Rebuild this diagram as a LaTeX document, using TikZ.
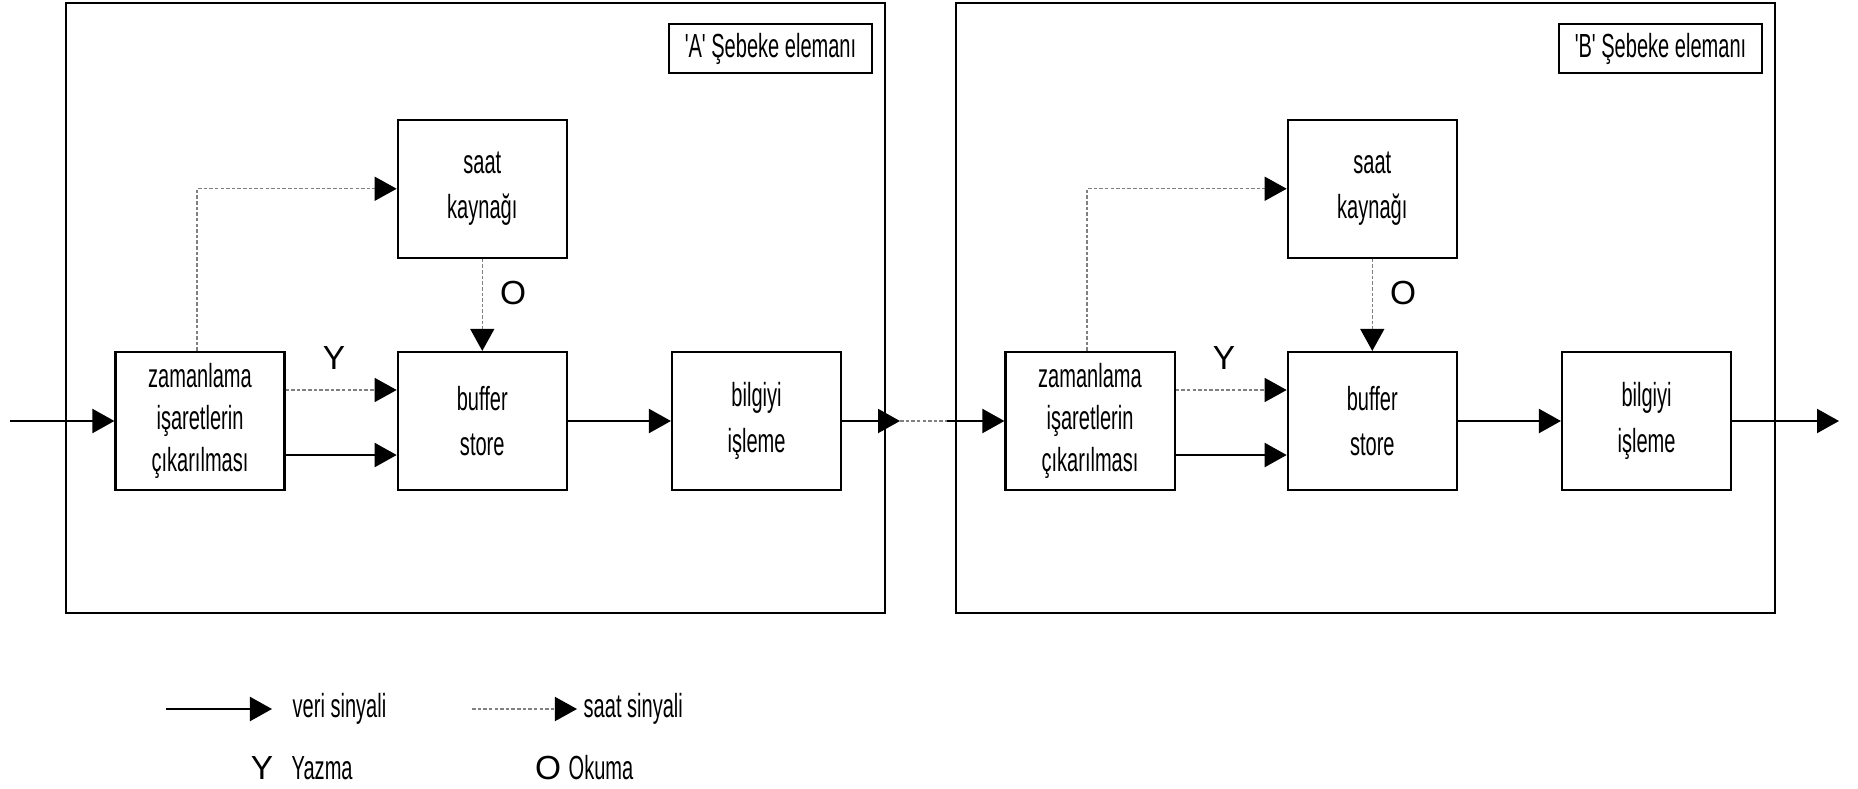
\documentclass[tikz,border=0pt]{standalone}
\usepackage{fontspec}
\setmainfont{Liberation Sans}
\newfontfamily\narrowsans[FakeStretch=0.6]{Liberation Sans}
\usetikzlibrary{arrows.meta,positioning}

\begin{document}
\begin{tikzpicture}[
    x=0.01cm, y=-0.01cm,
    node distance=1.1cm,
    block/.style={
        draw,
        line width=0.6pt,
        align=center,
        minimum width=1.69cm,
        minimum height=1.38cm,
        inner sep=0pt,
        font=\narrowsans\fontsize{9.5}{12}\selectfont
    },
    wideblock/.style={
        block,
        font=\narrowsans\fontsize{9.5}{13}\selectfont
    },
    element/.style={
        draw,
        line width=0.6pt,
        minimum width=8.19cm,
        minimum height=6.10cm,
        inner sep=0pt
    },
    tagbox/.style={
        draw,
        line width=0.6pt,
        minimum width=2.03cm,
        minimum height=0.49cm,
        inner sep=0pt,
        font=\narrowsans\fontsize{9.5}{12}\selectfont
    },
    letter/.style={inner sep=0pt, font=\fontsize{9.5}{12}\selectfont},
    legendtext/.style={anchor=west, inner sep=0pt, font=\narrowsans\fontsize{9.5}{12}\selectfont},
    dataarrow/.style={-{Triangle[length=2.2mm, width=2.4mm]}, line width=0.6pt},
    clockarrow/.style={-{Triangle[length=2.2mm, width=2.4mm, color=black]},
        line width=0.4pt, draw=gray, dash pattern=on 1pt off 0.6pt}
]
    \useasboundingbox (0,0) rectangle (1858,788);

    \node[element] (elemA) at (475.5,308) {};
    \node[element] (elemB) at (1365.5,308) {};
    \node[tagbox] (tagA) at (770.5,48.5) {'A' Şebeke elemanı};
    \node[tagbox] (tagB) at (1660.5,48.5) {'B' Şebeke elemanı};

    \node[block] (zamA) at (200,421) {zamanlama\\işaretlerin\\çıkarılması};
    \node[wideblock, right=1.11cm of zamA] (bufA) {buffer\\store};
    \node[wideblock, right=1.03cm of bufA] (bilA) {bilgiyi\\işleme};
    \node[wideblock, above=0.92cm of bufA] (saatA) {saat\\kaynağı};
    \node[letter] (yA) at (334,358) {Y};
    \node[letter] (oA) at (513,293) {O};

    \node[block] (zamB) at (1090,421) {zamanlama\\işaretlerin\\çıkarılması};
    \node[wideblock, right=1.11cm of zamB] (bufB) {buffer\\store};
    \node[wideblock, right=1.03cm of bufB] (bilB) {bilgiyi\\işleme};
    \node[wideblock, above=0.92cm of bufB] (saatB) {saat\\kaynağı};
    \node[letter] (yB) at (1224,358) {Y};
    \node[letter] (oB) at (1403,293) {O};

    \coordinate (inA) at (10,421);
    \coordinate (linkA) at (900,421);
    \coordinate (linkB) at (947,421);
    \coordinate (outB) at (1839,421);

    \draw[dataarrow] (inA) -- (zamA);
    \draw[clockarrow] ([yshift=0.31cm]zamA.east) -- ([yshift=0.31cm]bufA.west);
    \draw[dataarrow] ([yshift=-0.34cm]zamA.east) -- ([yshift=-0.34cm]bufA.west);
    \draw[clockarrow] ([xshift=-0.03cm]zamA.north) |- (saatA);
    \draw[clockarrow] (saatA) -- (bufA);
    \draw[dataarrow] (bufA) -- (bilA);
    \draw[dataarrow] (bilA) -- (linkA);
    \draw[clockarrow, -] (linkA) -- (linkB);

    \draw[dataarrow] (linkB) -- (zamB);
    \draw[clockarrow] ([yshift=0.31cm]zamB.east) -- ([yshift=0.31cm]bufB.west);
    \draw[dataarrow] ([yshift=-0.34cm]zamB.east) -- ([yshift=-0.34cm]bufB.west);
    \draw[clockarrow] ([xshift=-0.03cm]zamB.north) |- (saatB);
    \draw[clockarrow] (saatB) -- (bufB);
    \draw[dataarrow] (bufB) -- (bilB);
    \draw[dataarrow] (bilB) -- (outB);

    \coordinate (veriL1) at (166,709);
    \coordinate (veriL2) at (272,709);
    \coordinate (saatL1) at (472,709);
    \coordinate (saatL2) at (577,709);
    \draw[dataarrow] (veriL1) -- (veriL2);
    \draw[clockarrow] (saatL1) -- (saatL2);
    \node[legendtext] (veriT) at (292,709) {veri sinyali};
    \node[legendtext] (saatT) at (583,709) {saat sinyali};
    \node[letter] (yL) at (262,768) {Y};
    \node[legendtext] (yazmaT) at (291,768) {Yazma};
    \node[letter] (oL) at (548,768) {O};
    \node[legendtext] (okumaT) at (568,768) {Okuma};
\end{tikzpicture}
\end{document}
